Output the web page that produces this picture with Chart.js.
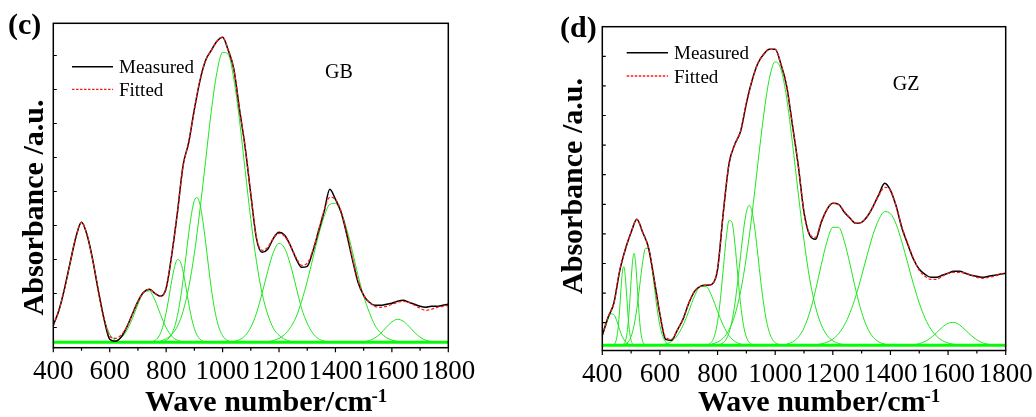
<!DOCTYPE html>
<html>
<head>
<meta charset="utf-8">
<script src="https://cdn.jsdelivr.net/npm/chart.js@4/dist/chart.umd.min.js"></script>
<style>
  html, body { margin: 0; padding: 0; background: #fff; }
  #wrap { position: relative; width: 1036px; height: 417px; overflow: hidden; }
  .panel { position: absolute; top: 0; width: 518px; height: 417px; }
</style>
</head>
<body>
<div id="wrap">
  <div class="panel" style="left:0"><canvas id="gb" width="518" height="417"></canvas></div>
  <div class="panel" style="left:518px"><canvas id="gz" width="518" height="417"></canvas></div>
</div>
<script>
// Spectra are sampled every 20 cm-1 from 400 to 1800 cm-1
const waveStart = 400;
const waveStep = 20;
const waveMin = 400;
const waveMax = 1800;
const waveLabelStep = 200;
const waveTicks = [400, 500, 600, 700, 800, 900, 1000, 1100, 1200, 1300, 1400, 1500, 1600, 1700, 1800];

// ---- GB sample ----
const gbMeasured = [
  17, 32, 54, 80, 105, 120, 107, 82, 51, 23,
  3, 1, 5, 15, 28, 41, 50, 53, 49, 46,
  54, 88, 130, 177, 200, 233, 262, 282, 292, 301,
  305, 292, 273, 233, 195, 148, 104, 90, 93, 104,
  110, 107, 97, 84, 75, 76, 91, 111, 131, 153,
  143, 130, 108, 83, 60, 47, 40, 37, 37, 38,
  39, 41, 42, 40, 38, 36, 35, 36, 36, 37,
  38
];
const gbFitted = [
  17, 32, 54, 80, 105, 120, 107, 82, 51, 24,
  6, 4, 7, 15, 28, 41, 50, 53, 49, 46,
  54, 88, 130, 176, 200, 233, 262, 282, 292, 301,
  305, 292, 273, 233, 195, 148, 105, 92, 95, 104,
  109, 106, 97, 85, 77, 79, 92, 112, 132, 145,
  143, 131, 110, 85, 62, 47, 40, 36, 35, 36,
  38, 40, 41, 40, 37, 34, 32, 33, 35, 36,
  37
];
// Fitted bands: [first wavenumber, spacing, absorbance values]
const gbBand500 = [400, 20, [17, 32, 54, 80, 105, 120, 107, 82, 51, 24, 8, 2, 0.3, 0]];
const gbBand735 = [600, 20, [0.3, 1.4, 4.5, 11.5, 23.5, 38, 49.6, 51.3, 42.3, 27.8, 14.6, 6.1, 2, 0.5, 0.1]];
const gbBand845 = [750, 10, [0.7, 1.8, 4.3, 9.1, 17.4, 29.7, 45.3, 62, 75.6, 82.6, 80.8, 70.7, 55.4, 38.8, 24.3, 13.6, 6.9, 3.1, 1.2, 0.5, 0.1]];
const gbBand910 = [780, 10, [0.4, 0.9, 2, 4.3, 8.5, 15.7, 26.8, 42.4, 62.5, 85.6, 109, 128.8, 141.7, 144.8, 137.6, 121.5, 99.8, 76.1, 54, 35.6, 21.8, 12.4, 6.6, 3.2, 1.5, 0.6, 0.3]];
const gbBand1010 = [780, 20, [1.5, 3.5, 8, 16, 31, 55, 89, 133, 182, 231, 270, 290, 288, 263, 222, 172, 123, 81, 49, 28, 14, 7, 3, 1, 0.3]];
const gbBand1200 = [1040, 20, [0.9, 2.6, 6.7, 15, 29, 49, 71, 90, 99, 94, 78, 56, 34, 19, 9, 3.5, 1.2, 0.3]];
const gbBand1395 = [1120, 20, [0.1, 0.3, 0.7, 1.8, 3.9, 7.8, 14.6, 25, 41, 61, 84, 107, 126, 138, 139, 130, 113, 91, 67, 46, 30, 17, 9.5, 4.8, 2.2, 1, 0.4]];
const gbBand1620 = [1480, 20, [0.2, 0.6, 1.8, 4.4, 8.9, 14.9, 20.4, 23, 21.2, 16.1, 10, 5.1, 2.1, 0.7, 0.2, 0.05]];
const gbYTicks = [14.8, 48.8, 82.8, 116.8, 150.8, 184.8, 218.8, 252.8, 286.8];

// ---- GZ sample ----
const gzMeasured = [
  10, 28, 42, 74, 96, 113, 126, 113, 98, 66,
  31, 6, 5, 15, 26, 42, 54, 59, 60, 61,
  76, 133, 182, 201, 214, 242, 265, 282, 291, 296,
  296, 281, 259, 220, 180, 133, 110, 106, 123, 136,
  142, 141, 133, 127, 122, 123, 129, 139, 151, 162,
  155, 139, 117, 101, 86, 76, 71, 68, 68, 70,
  72, 74, 74, 72, 70, 69, 68, 69, 70, 71,
  72
];
const gzFitted = [
  10, 28, 42, 74, 96, 113, 126, 113, 98, 66,
  31, 8, 6, 15, 26, 42, 54, 59, 60, 61,
  76, 133, 182, 201, 214, 242, 265, 282, 291, 296,
  296, 281, 259, 220, 180, 133, 111, 108, 124, 136,
  142, 141, 134, 127, 122, 123, 129, 139, 150, 158,
  155, 139, 118, 102, 87, 75, 69, 66, 66, 69,
  72, 73, 73, 72, 70, 68, 67, 68, 69, 71,
  72
];
const gzBand435 = [400, 10, [9.7, 17.6, 26, 31.5, 30.8, 24.6, 15.9, 8.4, 3.6, 1.3, 0.4, 0.1]];
const gzBand475 = [440, 5, [0.7, 2.4, 7.3, 17.8, 35, 56.5, 74, 78.7, 68, 48, 27.4, 12.8, 4.8, 1.5, 0.4, 0.1]];
const gzBand510 = [470, 5, [0.4, 1.3, 4, 10.5, 23, 42, 65, 84, 92, 84, 65, 42, 23, 10.5, 4, 1.3, 0.4]];
const gzBand555 = [470, 10, [0.3, 1.1, 3.4, 8.8, 19.6, 37, 60, 83, 97, 97, 83, 60, 37, 19.6, 8.8, 3.4, 1.1, 0.3]];
const gzBand750 = [600, 20, [0.4, 1.3, 3.9, 9.6, 19.8, 34, 49, 58.7, 58.7, 49, 34, 19.8, 9.6, 3.9, 1.3, 0.4]];
const gzBand845 = [760, 10, [0.3, 1.1, 3.6, 10, 23.6, 46.6, 77, 107, 125, 123, 102, 70.6, 41, 20, 8.3, 2.9, 0.8, 0.2]];
const gzBand910 = [790, 10, [0.1, 0.4, 1.1, 2.7, 6.1, 12.8, 24.2, 41.3, 64, 90, 115, 133, 140, 133, 115, 90, 64, 41.3, 24.2, 12.8, 6.1, 2.7, 1.1, 0.4, 0.1]];
const gzBand1005 = [780, 20, [1.2, 3.2, 7.3, 15.5, 30.2, 53.9, 88.2, 132, 182, 230, 267, 283.5, 276, 247, 202, 152, 105, 66, 38.4, 20.4, 10, 4.5, 1.8, 0.7, 0.2]];
const gzBand1210 = [1040, 20, [1.2, 3.3, 8.1, 17.4, 33, 55, 80.6, 104, 118, 118, 104, 80.6, 55, 33, 17.4, 8.1, 3.3, 1.2, 0.4]];
const gzBand1386 = [1120, 20, [0.25, 0.6, 1.4, 3.1, 6.2, 11.6, 20.1, 32.7, 49.4, 69.5, 91, 111, 126, 133.6, 131.7, 121, 103, 82, 61, 42.2, 27.2, 16.3, 9.1, 4.7, 2.3, 1, 0.4, 0.15]];
const gzBand1615 = [1440, 20, [0.05, 0.2, 0.6, 1.6, 3.8, 7.5, 12.6, 18, 22, 22.9, 20.3, 15.3, 9.9, 5.4, 2.5, 1, 0.3, 0.1, 0]];
const gzYTicks = [22.6, 52.2, 81.8, 111.4, 141, 170.6, 200.2, 229.8, 259.4, 289];

const SERIF = '"Liberation Serif", "Times New Roman", serif';
const BAND_GREEN = '#1fe61f';
const BASE_GREEN = '#00ff00';

function toPoints(from, step, values) {
  return values.map((v, i) => ({ x: from + i * step, y: v }));
}

function buildDatasets(measured, fitted, bands) {
  const line = { pointRadius: 0, fill: false, cubicInterpolationMode: 'monotone' };
  const sets = [
    Object.assign({ label: 'Fitted', data: toPoints(waveStart, waveStep, fitted),
      borderColor: '#ff1a1a', borderWidth: 1.3, borderDash: [3, 2] }, line),
    Object.assign({ label: 'Measured', data: toPoints(waveStart, waveStep, measured),
      borderColor: '#000000', borderWidth: 1.5 }, line)
  ];
  bands.forEach(([from, step, vals], i) => {
    sets.push(Object.assign({ label: 'band' + i, data: toPoints(from, step, vals),
      borderColor: BAND_GREEN, borderWidth: 1 }, line));
  });
  sets.push(Object.assign({ label: 'baseline', data: [{ x: waveMin, y: 0 }, { x: waveMax, y: 0 }],
    borderColor: BASE_GREEN, borderWidth: 3 }, line));
  return sets;
}

// Frame, tick marks, legend and captions for one panel
function decorPlugin(p) {
  return {
    id: 'decor',
    afterDatasetsDraw(chart) {
      const { ctx, chartArea: a, scales: { x, y } } = chart;
      ctx.save();
      ctx.strokeStyle = '#000';
      ctx.lineWidth = 1.5;
      ctx.strokeRect(a.left, a.top, a.right - a.left, a.bottom - a.top);
      ctx.lineWidth = 1.2;
      ctx.beginPath();
      waveTicks.forEach(v => {
        const px = x.getPixelForValue(v);
        const len = (v % waveLabelStep === 0) ? 4.5 : 3;
        ctx.moveTo(px, a.bottom);
        ctx.lineTo(px, a.bottom + len);
      });
      p.yTicks.forEach(v => {
        const py = y.getPixelForValue(v);
        ctx.moveTo(a.left, py);
        ctx.lineTo(a.left + 3.5, py);
      });
      ctx.stroke();
      ctx.restore();
    },
    afterDraw(chart) {
      const { ctx } = chart;
      ctx.save();
      ctx.fillStyle = '#000';
      ctx.textBaseline = 'alphabetic';

      // panel letter
      ctx.font = 'bold 30px ' + SERIF;
      ctx.textAlign = 'left';
      ctx.fillText(p.letter, p.letterX, p.letterY);

      // y axis title
      ctx.save();
      ctx.translate(p.yTitleX, p.yTitleY);
      ctx.rotate(-Math.PI / 2);
      ctx.textAlign = 'center';
      ctx.font = 'bold 30px ' + SERIF;
      ctx.fillText('Absorbance /a.u.', 0, 0);
      ctx.restore();

      // x axis title with superscript
      ctx.font = 'bold 30px ' + SERIF;
      ctx.textAlign = 'left';
      const main = 'Wave number/cm';
      ctx.fillText(main, p.xTitleX, 411);
      const w = ctx.measureText(main).width;
      ctx.font = 'bold 19px ' + SERIF;
      ctx.fillText('-1', p.xTitleX + w - 1, 402);

      // legend
      ctx.lineWidth = 1.5;
      ctx.strokeStyle = '#000';
      ctx.beginPath();
      ctx.moveTo(p.legX0, p.legY1);
      ctx.lineTo(p.legX1, p.legY1);
      ctx.stroke();
      ctx.strokeStyle = '#ff1a1a';
      ctx.lineWidth = 1.3;
      ctx.setLineDash([2.5, 1.5]);
      ctx.beginPath();
      ctx.moveTo(p.legX0, p.legY2);
      ctx.lineTo(p.legX1, p.legY2);
      ctx.stroke();
      ctx.setLineDash([]);
      ctx.font = '19px ' + SERIF;
      ctx.fillText('Measured', p.legX1 + 6, p.legY1 + 6);
      ctx.fillText('Fitted', p.legX1 + 6, p.legY2 + 6.5);

      // sample name
      ctx.font = '20px ' + SERIF;
      ctx.fillText(p.name, p.nameX, p.nameY);
      ctx.restore();
    }
  };
}

function makePanel(id, p, measured, fitted, bands) {
  return new Chart(document.getElementById(id), {
    type: 'line',
    data: { datasets: buildDatasets(measured, fitted, bands) },
    options: {
      responsive: false,
      devicePixelRatio: 1,
      animation: false,
      events: [],
      layout: { padding: { left: p.left, top: p.top, right: 518 - p.right, bottom: 0 } },
      plugins: { legend: { display: false }, tooltip: { enabled: false } },
      scales: {
        x: {
          type: 'linear',
          min: waveMin,
          max: waveMax,
          grid: { display: false, drawTicks: false },
          border: { display: false },
          ticks: {
            stepSize: waveLabelStep,
            autoSkip: false,
            maxRotation: 0,
            padding: 8,
            color: '#000',
            font: { family: SERIF, size: 27 },
            callback: v => String(v)
          },
          afterFit(s) { s.height = 417 - p.bottom; s.paddingLeft = 0; s.paddingRight = 0; }
        },
        y: {
          type: 'linear',
          display: false,
          min: p.yMin,
          max: p.yMax
        }
      }
    },
    plugins: [decorPlugin(p)]
  });
}

makePanel('gb', {
  left: 53.3, top: 23.3, right: 448.3, bottom: 347.7,
  yMin: -5.4, yMax: 319, yTicks: gbYTicks,
  letter: '(c)', letterX: 8, letterY: 33.5,
  yTitleX: 43, yTitleY: 207.5, xTitleX: 145,
  legX0: 72, legX1: 113, legY1: 66.7, legY2: 89.3,
  name: 'GB', nameX: 325, nameY: 78
}, gbMeasured, gbFitted,
  [gbBand500, gbBand735, gbBand845, gbBand910, gbBand1010, gbBand1200, gbBand1395, gbBand1620]);

makePanel('gz', {
  left: 84.3, top: 26.7, right: 487.7, bottom: 350.5,
  yMin: -5.2, yMax: 318.6, yTicks: gzYTicks,
  letter: '(d)', letterX: 42, letterY: 36.5,
  yTitleX: 63.7, yTitleY: 186, xTitleX: 180,
  legX0: 108.7, legX1: 150, legY1: 52.7, legY2: 76,
  name: 'GZ', nameX: 374.7, nameY: 90
}, gzMeasured, gzFitted,
  [gzBand435, gzBand475, gzBand510, gzBand555, gzBand750, gzBand845, gzBand910, gzBand1005, gzBand1210, gzBand1386, gzBand1615]);
</script>
</body>
</html>
